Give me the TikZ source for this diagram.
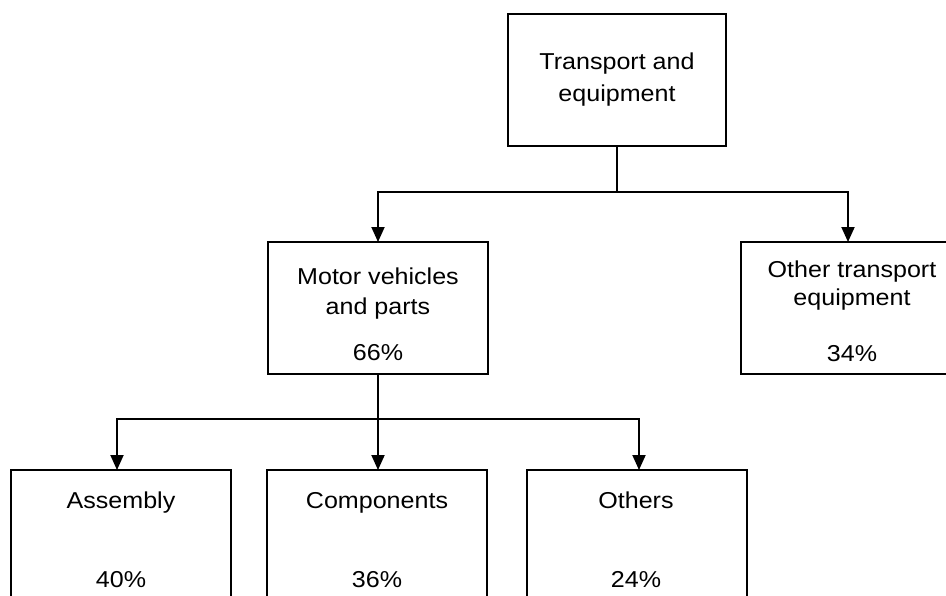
\documentclass[tikz,border=0pt]{standalone}
\usepackage{fontspec}
\setmainfont[FakeStretch=1.09]{Liberation Sans}
\usetikzlibrary{arrows.meta,calc}
\begin{document}
\begin{tikzpicture}[x=1pt,y=-1pt,
  box/.style={draw=black,line width=1.9pt,fill=white,inner sep=0pt,outer sep=0pt,minimum width=220pt,minimum height=132pt,anchor=north west},
  lbl/.style={font=\fontsize{23}{27}\selectfont,anchor=base,inner sep=0pt},
  conn/.style={line width=1.9pt,draw=black},
  arr/.style={conn,-{Triangle[width=13pt,length=15pt]}}]
\useasboundingbox (0,0) rectangle (946,595);
\clip (0,0) rectangle (946,595);
\fill[white] (0,0) rectangle (946,595);
% boxes
\node[box,minimum width=218pt] (top) at (508,14) {};
\node[box] (motor) at (268,242) {};
\node[box] (other) at (741,242) {};
\node[box,minimum height=160pt] (asm) at (11,470) {};
\node[box,minimum height=160pt] (comp) at (267,470) {};
\node[box,minimum height=160pt] (oth) at (527,470) {};
% labels
\node[lbl] (t1) at (617,69) {Transport and};
\node[lbl] (t2) at (617,101) {equipment};
\node[lbl] (m1) at (378,284) {Motor vehicles};
\node[lbl] (m2) at (378,314) {and parts};
\node[lbl] (m3) at (378,360) {66\%};
\node[lbl] (o1) at (852,277) {Other transport};
\node[lbl] (o2) at (852,305) {equipment};
\node[lbl] (o3) at (852,361) {34\%};
\node[lbl] (a1) at (121,508) {Assembly};
\node[lbl] (a2) at (121,587) {40\%};
\node[lbl] (c1) at (377,508) {Components};
\node[lbl] (c2) at (377,587) {36\%};
\node[lbl] (h1) at (636,508) {Others};
\node[lbl] (h2) at (636,587) {24\%};
% connectors
\coordinate (j1) at ($(top.south)+(0,46)$);
\coordinate (j2) at ($(motor.south)+(0,45)$);
\draw[conn] (top.south) -- (j1);
\draw[arr] (j1) -| (motor.north);
\draw[arr] (j1) -| ([xshift=-3pt]other.north);
\draw[conn] (motor.south) -- (j2);
\draw[arr] (j2) -| ([xshift=-4pt]asm.north);
\draw[arr] (j2) -- (comp.north -| j2);
\draw[arr] (j2) -| ([xshift=2pt]oth.north);
\end{tikzpicture}
\end{document}
